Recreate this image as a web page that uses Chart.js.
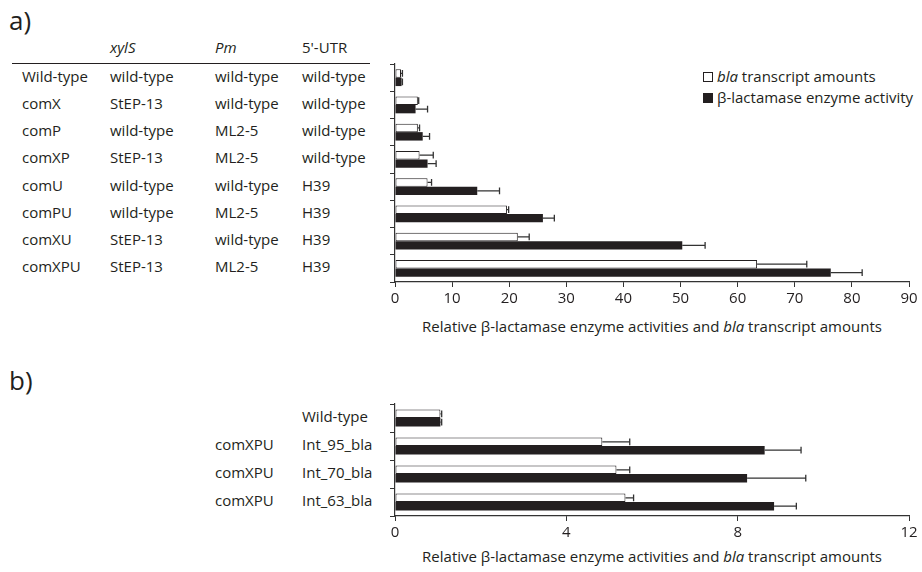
<!DOCTYPE html>
<html lang="en">
<head>
<meta charset="UTF-8">
<title>bla expression</title>
<script src="https://cdn.jsdelivr.net/npm/chart.js"></script>
<style>
    body {
        margin: 0;
        width: 922px;
        height: 572px;
        background: #fff;
        font-family: "Open Sans", sans-serif;
        color: #231f20;
        position: relative;
        overflow: hidden;
    }
    .abs { position: absolute; white-space: nowrap; }
    .panel { font-size: 26px; }
    .cell { font-size: 15px; line-height: 18px; }
    .box { position: absolute; }
    .legend { font-size: 15px; line-height: 18px; }
    .sq { display: inline-block; width: 8px; height: 8px; border: 1px solid #231f20; margin-right: 4px; vertical-align: 0px; }
    .xtitle { font-size: 15px; text-align: center; width: 514px; }
</style>
</head>
<body>
<div class="abs panel" style="left:9px; top:2px;">a)</div>
<div class="abs panel" style="left:9px; top:362px;">b)</div>

<div class="abs cell" style="left:110px; top:38px;"><i>xylS</i></div>
<div class="abs cell" style="left:215px; top:38px;"><i>Pm</i></div>
<div class="abs cell" style="left:302px; top:38px;">5'-UTR</div>
<div class="abs" style="left:12px; top:63px; width:358px; height:1px; background:#231f20;"></div>

<div id="rowsA"></div>
<div id="rowsB"></div>

<div class="abs legend" style="left:703px; top:67px;"><span class="sq" style="background:#fff;"></span><i>bla</i> transcript amounts</div>
<div class="abs legend" style="left:703px; top:88px;"><span class="sq" style="background:#231f20;"></span>β-lactamase enzyme activity</div>

<div class="box" style="left:380px; top:58px; width:542px; height:254px;"><canvas id="chartA"></canvas></div>
<div class="box" style="left:380px; top:398px; width:542px; height:148px;"><canvas id="chartB"></canvas></div>

<div class="abs xtitle" style="left:395px; top:316px;">Relative β-lactamase enzyme activities and <i>bla</i> transcript amounts</div>
<div class="abs xtitle" style="left:395px; top:546px;">Relative β-lactamase enzyme activities and <i>bla</i> transcript amounts</div>

<script>
// panel a
const strainsA = ['Wild-type', 'comX', 'comP', 'comXP', 'comU', 'comPU', 'comXU', 'comXPU'];
const xylSA = ['wild-type', 'StEP-13', 'wild-type', 'StEP-13', 'wild-type', 'wild-type', 'StEP-13', 'StEP-13'];
const pmA = ['wild-type', 'wild-type', 'ML2-5', 'ML2-5', 'wild-type', 'ML2-5', 'wild-type', 'ML2-5'];
const utrA = ['wild-type', 'wild-type', 'wild-type', 'wild-type', 'H39', 'H39', 'H39', 'H39'];
const blaA = [1.05, 4.0, 4.0, 4.3, 5.7, 19.6, 21.5, 63.4];
const blaErrA = [0.25, 0.15, 0.3, 2.4, 0.7, 0.3, 2.0, 8.7];
const enzA = [1.15, 3.6, 4.85, 5.7, 14.4, 25.9, 50.3, 76.3];
const enzErrA = [0.15, 2.1, 1.2, 1.5, 3.9, 2.0, 4.0, 5.5];
const ticksA = [0, 10, 20, 30, 40, 50, 60, 70, 80, 90];

// panel b
const hostB = ['', 'comXPU', 'comXPU', 'comXPU'];
const strainsB = ['Wild-type', 'Int_95_bla', 'Int_70_bla', 'Int_63_bla'];
const blaB = [1.06, 4.84, 5.17, 5.38];
const blaErrB = [0.03, 0.64, 0.31, 0.19];
const enzB = [1.06, 8.63, 8.22, 8.85];
const enzErrB = [0.03, 0.85, 1.37, 0.52];
const ticksB = [0, 4, 8, 12];

const ink = '#231f20';

// draws one-sided error bars from the end of each bar
const errorBars = {
    id: 'errorBars',
    afterDatasetsDraw(chart) {
        const ctx = chart.ctx;
        const xs = chart.scales.x;
        ctx.save();
        ctx.strokeStyle = '#333';
        ctx.lineWidth = 1.3;
        chart.data.datasets.forEach((ds, di) => {
            const meta = chart.getDatasetMeta(di);
            meta.data.forEach((bar, i) => {
                const end = xs.getPixelForValue(ds.data[i] + ds.err[i]);
                const half = bar.height * 0.4;
                ctx.beginPath();
                ctx.moveTo(bar.x, bar.y);
                ctx.lineTo(end, bar.y);
                ctx.moveTo(end, bar.y - half);
                ctx.lineTo(end, bar.y + half);
                ctx.stroke();
            });
        });
        ctx.restore();
    }
};

function makeChart(id, labels, white, whiteErr, black, blackErr, ticks, catPct) {
    return new Chart(document.getElementById(id), {
        type: 'bar',
        data: {
            labels: labels,
            datasets: [
                { data: white, err: whiteErr, backgroundColor: '#fff', borderColor: ink, borderWidth: 1, borderSkipped: false },
                { data: black, err: blackErr, backgroundColor: ink, borderColor: ink, borderWidth: 0 }
            ]
        },
        options: {
            indexAxis: 'y',
            responsive: true,
            maintainAspectRatio: false,
            animation: false,
            layout: { padding: { top: 6, right: 13, left: 0, bottom: 0 } },
            datasets: { bar: { categoryPercentage: catPct, barPercentage: 1 } },
            plugins: { legend: { display: false }, tooltip: { enabled: false } },
            scales: {
                x: {
                    min: ticks[0],
                    max: ticks[ticks.length - 1],
                    afterBuildTicks: s => { s.ticks = ticks.map(v => ({ value: v })); },
                    afterFit: s => { s.height = 30; },
                    grid: { drawOnChartArea: false, tickLength: 5, color: '#333' },
                    border: { display: true, color: '#333', width: 1.2 },
                    ticks: { color: ink, font: { family: 'Open Sans', size: 15 }, padding: 3, maxRotation: 0 }
                },
                y: {
                    afterFit: s => { s.width = 15; },
                    grid: { drawOnChartArea: false, tickLength: 5, color: '#333', offset: true },
                    border: { display: true, color: '#333', width: 1.2 },
                    ticks: { display: false }
                }
            }
        },
        plugins: [errorBars]
    });
}

const chartA = makeChart('chartA', strainsA, blaA, blaErrA, enzA, enzErrA, ticksA, 0.62);
const chartB = makeChart('chartB', strainsB, blaB, blaErrB, enzB, enzErrB, ticksB, 0.6);

// row labels placed at the category centres of each chart
function addRows(target, chart, top, cols) {
    const el = document.getElementById(target);
    const ys = chart.scales.y;
    cols.forEach(col => {
        col.values.forEach((txt, i) => {
            if (!txt) return;
            const d = document.createElement('div');
            d.className = 'abs cell';
            d.style.left = col.x + 'px';
            d.style.top = (top + ys.getPixelForValue(i) - 11) + 'px';
            d.textContent = txt;
            el.appendChild(d);
        });
    });
}

addRows('rowsA', chartA, 58, [
    { x: 22, values: strainsA },
    { x: 110, values: xylSA },
    { x: 215, values: pmA },
    { x: 302, values: utrA }
]);
addRows('rowsB', chartB, 398, [
    { x: 215, values: hostB },
    { x: 302, values: strainsB }
]);
</script>
</body>
</html>
